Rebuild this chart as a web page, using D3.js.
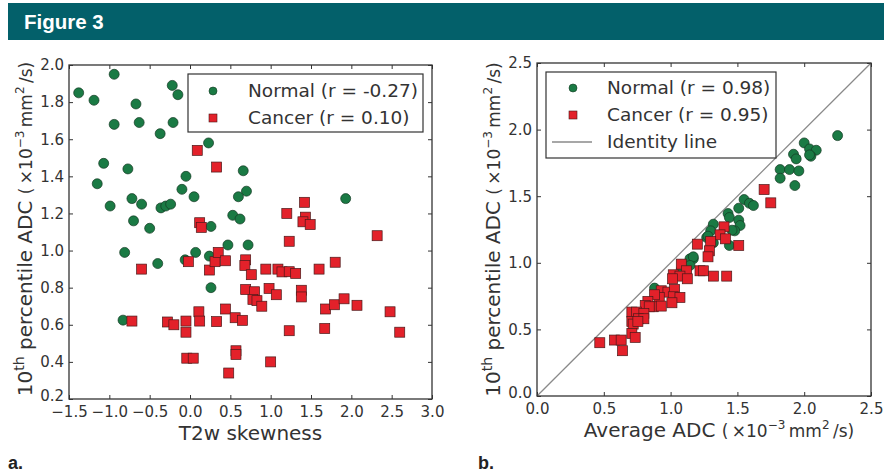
<!DOCTYPE html>
<html>
<head>
<meta charset="utf-8">
<script src="https://cdn.jsdelivr.net/npm/d3@7"></script>
<style>
body{margin:0;background:#fff;}
</style>
</head>
<body>
<script>
// panel a: T2w skewness vs 10th percentile ADC
var normalA=[[-1.38,1.85],[-1.19,1.81],[-0.94,1.95],[-0.94,1.68],[-0.67,1.79],[-0.63,1.69],[-1.07,1.47],[-1.15,1.36],
    [-0.99,1.24],[-0.77,1.44],[-0.72,1.28],[-0.60,1.25],[-0.70,1.16],[-0.50,1.12],[-0.37,1.63],[-0.22,1.89],[-0.15,1.84],
    [-0.21,1.69],[-0.36,1.23],[-0.30,1.24],[-0.24,1.25],[-0.10,1.33],[-0.05,1.40],[0.05,1.29],[0.23,1.58],[0.26,1.13],
    [0.66,1.43],[0.70,1.32],[0.60,1.29],[0.53,1.19],[0.62,1.17],[0.47,1.03],[0.72,1.03],[1.93,1.28],[-0.81,0.99],
    [-0.40,0.93],[-0.06,0.95],[0.07,0.99],[0.24,0.97],[0.26,0.80],[-0.83,0.625]];
var cancerA=[[0.09,1.54],[0.33,1.45],[1.42,1.26],[1.20,1.20],[1.43,1.18],[1.40,1.155],[1.49,1.14],[2.32,1.08],[1.23,1.05],
    [0.12,1.15],[0.14,1.125],[-0.72,0.62],[-0.60,0.90],[-0.28,0.615],[-0.20,0.60],[-0.05,0.62],[-0.05,0.56],[-0.02,0.94],
    [-0.04,0.42],[0.04,0.42],[0.11,0.67],[0.12,0.62],[0.24,0.895],[0.31,0.94],[0.35,0.99],[0.33,0.617],[0.44,0.945],
    [0.44,0.685],[0.48,0.34],[0.56,0.638],[0.57,0.46],[0.57,0.44],[0.65,0.624],[0.69,0.95],[0.68,0.92],[0.76,0.87],
    [0.69,0.79],[0.94,0.90],[1.09,0.90],[1.14,0.885],[1.23,0.886],[1.31,0.877],[1.60,0.90],[1.80,0.937],[0.80,0.778],
    [0.78,0.737],[0.83,0.73],[0.89,0.70],[0.98,0.796],[1.07,0.762],[1.38,0.786],[1.38,0.75],[1.68,0.685],[1.79,0.708],
    [1.91,0.74],[2.07,0.705],[2.48,0.67],[2.60,0.56],[1.67,0.58],[1.23,0.568],[1.00,0.40]];

// panel b: average ADC vs 10th percentile ADC
var normalB=[[0.72,0.625],[1.08,0.95],[1.12,0.97],[2.25,1.955],[2.00,1.90],[2.04,1.855],[2.09,1.845],[2.05,1.80],[2.04,1.81],
    [1.92,1.815],[1.94,1.78],[1.82,1.70],[1.89,1.70],[1.96,1.69],[1.82,1.635],[1.93,1.58],[1.55,1.475],[1.59,1.447],
    [1.62,1.43],[1.51,1.41],[1.43,1.37],[1.44,1.34],[1.51,1.32],[1.52,1.28],[1.48,1.24],[1.32,1.29],[1.30,1.24],
    [1.27,1.19],[1.32,1.15],[1.44,1.13],[1.17,1.03],[1.145,1.03],[1.17,1.045],[1.145,0.98],[0.88,0.81],[1.46,1.245],[1.28,1.20]];
var cancerB=[[1.70,1.55],[1.75,1.45],[1.40,1.27],[1.37,1.21],[1.41,1.18],[1.30,1.16],[1.20,1.14],[1.51,1.13],[1.29,1.09],
    [1.28,1.045],[1.32,0.90],[1.42,0.90],[1.22,0.94],[1.245,0.94],[1.08,0.99],[1.12,0.94],[1.02,0.91],[1.07,0.90],
    [1.125,0.88],[1.015,0.88],[0.93,0.79],[0.98,0.78],[1.03,0.80],[0.915,0.74],[1.02,0.745],[1.07,0.74],[0.88,0.76],
    [0.87,0.67],[0.93,0.675],[1.01,0.70],[0.83,0.71],[0.81,0.68],[0.84,0.67],[0.71,0.63],[0.745,0.63],[0.80,0.62],
    [0.71,0.56],[0.76,0.58],[0.80,0.58],[0.72,0.54],[0.755,0.56],[0.71,0.47],[0.735,0.44],[0.47,0.40],[0.58,0.42],
    [0.63,0.42],[0.64,0.34]];

var xTicksA=[-1.5,-1.0,-0.5,0.0,0.5,1.0,1.5,2.0,2.5,3.0];
var yTicksA=[0.2,0.4,0.6,0.8,1.0,1.2,1.4,1.6,1.8,2.0];
var ticksB=[0.0,0.5,1.0,1.5,2.0,2.5];
var legendA=["Normal (r = -0.27)","Cancer (r = 0.10)"];
var legendB=["Normal (r = 0.98)","Cancer (r = 0.95)","Identity line"];

var width=884;
var height=474;
var green="#1a7a44";
var red="#e3212a";
var ink="#333";
var font="'DejaVu Sans', sans-serif";

var svg=d3.select("body")
    .append("svg")
    .attr("width",width)
    .attr("height",height);

svg.append("rect")
    .attr("x",8).attr("y",3)
    .attr("width",876).attr("height",37)
    .attr("fill","#03606a");
svg.append("text")
    .attr("x",24).attr("y",29)
    .attr("fill","#fff")
    .attr("font-family","'Liberation Sans', Arial, sans-serif")
    .attr("font-weight","bold")
    .attr("font-size","20.5px")
    .text("Figure 3");

// label with superscripts: parts = [text, size, shift]
function richLabel(sel,parts){
    var prev=0;
    parts.forEach(function(p){
        sel.append("tspan")
            .attr("font-size",p[1]+"px")
            .attr("dy",(p[2]-prev)+"px")
            .text(p[0]);
        prev=p[2];
    });
}

function unitParts(){
    return [["(",17,0],["\u2009\u00d710",17,0],["\u22123",12,-8],["\u2009mm",17,0],["2",12,-8],["\u2009/s)",17,0]];
}

function panel(box,xd,yd,xt,yt){
    var x=d3.scaleLinear().domain(xd).range([box.left,box.right]);
    var y=d3.scaleLinear().domain(yd).range([box.bottom,box.top]);
    var g=svg.append("g");
    var fmt=d3.format(".1f");

    function style(a){
        a.select(".domain").remove();
        a.selectAll(".tick line").attr("stroke",ink).attr("stroke-width",1);
        a.selectAll(".tick text").attr("fill",ink).attr("font-family",font).attr("font-size","15px");
    }
    g.append("g").attr("transform","translate(0,"+box.bottom+")")
        .call(d3.axisBottom(x).tickValues(xt).tickSizeInner(-4).tickSizeOuter(0).tickPadding(7).tickFormat(fmt))
        .call(style);
    g.append("g").attr("transform","translate(0,"+box.top+")")
        .call(d3.axisTop(x).tickValues(xt).tickSizeInner(-4).tickSizeOuter(0).tickFormat(""))
        .call(style);
    var ya=g.append("g").attr("transform","translate("+box.left+",0)")
        .call(d3.axisLeft(y).tickValues(yt).tickSizeInner(-4).tickSizeOuter(0).tickPadding(5).tickFormat(fmt))
        .call(style);
    // lowest label sits a little higher, as in the source
    ya.selectAll(".tick text").filter(function(d){return d==yd[0];}).attr("dy","0.1em");
    g.append("g").attr("transform","translate("+box.right+",0)")
        .call(d3.axisRight(y).tickValues(yt).tickSizeInner(-4).tickSizeOuter(0).tickFormat(""))
        .call(style);
    return {g:g,x:x,y:y};
}

function points(p,normal,cancer){
    p.g.selectAll("circle.n")
        .data(normal)
        .enter()
        .append("circle")
        .attr("class","n")
        .attr("cx",function(d){return p.x(d[0]);})
        .attr("cy",function(d){return p.y(d[1]);})
        .attr("r",5)
        .attr("fill",green)
        .attr("stroke","#163a24")
        .attr("stroke-width",0.7);
    p.g.selectAll("rect.c")
        .data(cancer)
        .enter()
        .append("rect")
        .attr("class","c")
        .attr("x",function(d){return p.x(d[0])-5;})
        .attr("y",function(d){return p.y(d[1])-5;})
        .attr("width",10)
        .attr("height",10)
        .attr("fill",red)
        .attr("stroke","#4a1a1a")
        .attr("stroke-width",0.7);
}

function frame(box){
    svg.append("rect")
        .attr("x",box.left).attr("y",box.top)
        .attr("width",box.right-box.left).attr("height",box.bottom-box.top)
        .attr("fill","none")
        .attr("stroke",ink)
        .attr("stroke-width",1.3);
}

function legend(lb,labels,mx,tx,rows,hasLine){
    svg.append("rect")
        .attr("x",lb.left).attr("y",lb.top)
        .attr("width",lb.right-lb.left).attr("height",lb.bottom-lb.top)
        .attr("fill","#fff")
        .attr("stroke",ink)
        .attr("stroke-width",1.2);
    labels.forEach(function(t,i){
        var by=rows[i];
        var cy=by-6;
        if(i==0){
            svg.append("circle").attr("cx",mx).attr("cy",cy).attr("r",4)
                .attr("fill",green).attr("stroke","#163a24").attr("stroke-width",0.6);
        }else if(i==1){
            svg.append("rect").attr("x",mx-4).attr("y",cy-4).attr("width",8).attr("height",8)
                .attr("fill",red).attr("stroke","#4a1a1a").attr("stroke-width",0.6);
        }else if(hasLine){
            svg.append("line").attr("x1",mx-21).attr("x2",mx+19).attr("y1",cy).attr("y2",cy)
                .attr("stroke","#8a8a8a").attr("stroke-width",1.3);
        }
        svg.append("text")
            .attr("x",tx).attr("y",by)
            .attr("fill",ink)
            .attr("font-family",font)
            .attr("font-size","18.5px")
            .text(t);
    });
}

// ---- panel a
var boxA={left:69,top:65,right:432,bottom:399};
var pa=panel(boxA,[-1.5,3.0],[0.2,2.0],xTicksA,yTicksA);
points(pa,normalA,cancerA);
frame(boxA);
legend({left:188,top:74,right:423,bottom:132},legendA,213,248,[97,124],false);

svg.append("text")
    .attr("x",(boxA.left+boxA.right)/2).attr("y",440)
    .attr("text-anchor","middle")
    .attr("fill",ink).attr("font-family",font).attr("font-size","20px")
    .text("T2w skewness");

var ylA=svg.append("text")
    .attr("transform","translate(32,"+229+") rotate(-90)")
    .attr("text-anchor","middle")
    .attr("fill",ink).attr("font-family",font);
richLabel(ylA,[["10",20,0],["th",14,-8],["\u00a0percentile ADC\u00a0",20,0]].concat(unitParts()));

// ---- panel b
var boxB={left:537,top:63,right:871,bottom:396};
var pb=panel(boxB,[0,2.5],[0,2.5],ticksB,ticksB);
pb.g.append("line")
    .attr("x1",pb.x(0)).attr("y1",pb.y(0))
    .attr("x2",pb.x(2.5)).attr("y2",pb.y(2.5))
    .attr("stroke","#8a8a8a")
    .attr("stroke-width",1.3);
points(pb,normalB,cancerB);
frame(boxB);
legend({left:546,top:72,right:776,bottom:158},legendB,573,607,[94,121,148],true);

var xlB=svg.append("text")
    .attr("x",719).attr("y",437)
    .attr("text-anchor","middle")
    .attr("fill",ink).attr("font-family",font);
richLabel(xlB,[["Average ADC\u00a0",20,0]].concat(unitParts()));

var ylB=svg.append("text")
    .attr("transform","translate(500,"+229.5+") rotate(-90)")
    .attr("text-anchor","middle")
    .attr("fill",ink).attr("font-family",font);
richLabel(ylB,[["10",20,0],["th",14,-8],["\u00a0percentile ADC\u00a0",20,0]].concat(unitParts()));

// panel letters
svg.append("text").attr("x",8).attr("y",469)
    .attr("font-family","'Liberation Sans', Arial, sans-serif").attr("font-weight","bold")
    .attr("font-size","18px").attr("fill","#222").text("a.");
svg.append("text").attr("x",478).attr("y",469)
    .attr("font-family","'Liberation Sans', Arial, sans-serif").attr("font-weight","bold")
    .attr("font-size","18px").attr("fill","#222").text("b.");
</script>
</body>
</html>
